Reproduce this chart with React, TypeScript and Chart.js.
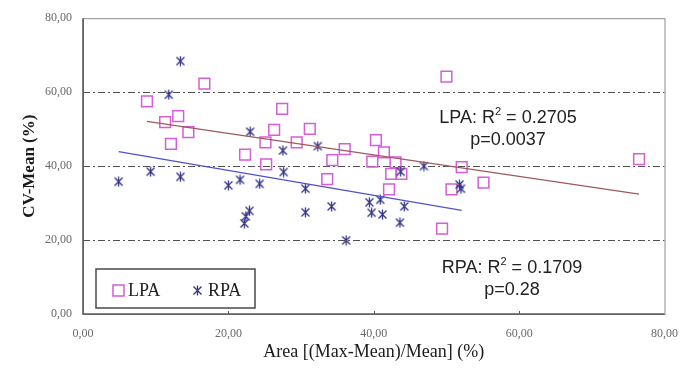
import React, { useEffect, useRef } from "react";
import { Chart, registerables } from "chart.js";

Chart.register(...registerables);

// ---- data ----
const lpaX = [8.8, 11.3, 13.1, 14.5, 12.1, 16.7, 22.3, 25.2, 26.3, 25.1, 27.4, 29.4, 31.2, 33.6, 34.3, 36.0, 40.3, 41.4, 39.8, 43.0, 42.4, 43.8, 42.1, 52.1, 50.7, 55.1, 49.4, 50.0, 76.5];
const lpaY = [57.5, 51.9, 53.5, 49.2, 46.0, 62.3, 43.1, 40.5, 49.8, 46.4, 55.5, 46.4, 50.1, 36.5, 41.6, 44.6, 47.0, 43.7, 41.2, 41.0, 37.9, 37.9, 33.7, 39.7, 33.7, 35.5, 23.1, 64.2, 41.9];

const rpaX = [4.9, 9.3, 13.4, 11.8, 13.4, 20.0, 21.6, 24.3, 23.0, 27.5, 27.6, 30.6, 32.3, 22.9, 22.4, 22.2, 30.6, 34.2, 36.2, 39.4, 40.9, 39.7, 41.2, 44.2, 43.6, 43.7, 46.9, 52.0, 51.8];
const rpaY = [35.8, 38.5, 68.4, 59.3, 37.1, 34.8, 36.3, 35.2, 49.3, 44.2, 38.4, 33.9, 45.4, 27.9, 26.4, 24.5, 27.5, 29.1, 19.9, 30.2, 30.9, 27.4, 26.9, 29.1, 24.7, 38.5, 40.0, 33.9, 35.0];

const lpaTrendX = [8.8, 76.5];
const lpaTrendY = [52.1, 32.4];
const rpaTrendX = [4.9, 52.1];
const rpaTrendY = [43.9, 28.0];

const seriesNames = ["LPA", "RPA"];
const lpaStats = { r2: "0.2705", p: "0.0037" };
const rpaStats = { r2: "0.1709", p: "0.28" };

const xTitle = "Area [(Max-Mean)/Mean] (%)";
const yTitle = "CV-Mean (%)";
const gridValues = [20, 40, 60];

const PINK = "#d75cd7";
const NAVY = "#34348a";
const LPA_TREND = "#9e5a5e";
const RPA_TREND = "#5252c8";

const fmt = (v: number) => v.toFixed(2).replace(".", ",");

function makeStar(): HTMLCanvasElement {
  const c = document.createElement("canvas");
  c.width = 11;
  c.height = 11;
  const g = c.getContext("2d")!;
  g.strokeStyle = NAVY;
  g.lineWidth = 1.3;
  g.beginPath();
  g.moveTo(1.5, 1.5);
  g.lineTo(9.5, 9.5);
  g.moveTo(9.5, 1.5);
  g.lineTo(1.5, 9.5);
  g.moveTo(5.5, 0.5);
  g.lineTo(5.5, 10.5);
  g.stroke();
  return c;
}

export default function App() {
  const ref = useRef<HTMLCanvasElement>(null);

  useEffect(() => {
    document.body.style.margin = "0";
    const star = makeStar();

    const drawSup = (
      ctx: CanvasRenderingContext2D,
      pre: string,
      sup: string,
      post: string,
      cx: number,
      baseline: number
    ) => {
      const big = "18px 'Liberation Sans'";
      const small = "11px 'Liberation Sans'";
      ctx.font = big;
      const w1 = ctx.measureText(pre).width;
      const w3 = ctx.measureText(post).width;
      ctx.font = small;
      const w2 = ctx.measureText(sup).width;
      const total = w1 + w2 + w3;
      let x = cx - total / 2;
      ctx.textAlign = "left";
      ctx.textBaseline = "alphabetic";
      ctx.font = big;
      ctx.fillText(pre, x, baseline);
      x += w1;
      ctx.font = small;
      ctx.fillText(sup, x, baseline - 8);
      x += w2;
      ctx.font = big;
      ctx.fillText(post, x, baseline);
    };

    const deco = {
      id: "deco",
      beforeDatasetsDraw(chart: any) {
        const { ctx, chartArea: ca, scales } = chart;
        ctx.save();
        ctx.strokeStyle = "#505050";
        ctx.lineWidth = 1;
        ctx.setLineDash([7, 3, 2, 3]);
        for (const v of gridValues) {
          const y = Math.round(scales.y.getPixelForValue(v)) + 0.5;
          ctx.beginPath();
          ctx.moveTo(ca.left, y);
          ctx.lineTo(ca.right, y);
          ctx.stroke();
        }
        ctx.restore();
      },
      afterDatasetsDraw(chart: any) {
        const { ctx, chartArea: ca, scales } = chart;
        ctx.save();
        // frame
        ctx.strokeStyle = "#8c8c8c";
        ctx.lineWidth = 1;
        ctx.strokeRect(ca.left + 0.5, ca.top + 0.5, ca.right - ca.left, ca.bottom - ca.top);
        ctx.strokeStyle = "#5a5a5a";
        ctx.lineWidth = 1.6;
        ctx.beginPath();
        ctx.moveTo(ca.left, ca.top);
        ctx.lineTo(ca.left, ca.bottom);
        ctx.lineTo(ca.right, ca.bottom);
        ctx.stroke();
        // small inward ticks on x axis
        ctx.lineWidth = 1;
        for (const v of [20, 40, 60]) {
          const x = Math.round(scales.x.getPixelForValue(v)) + 0.5;
          ctx.beginPath();
          ctx.moveTo(x, ca.bottom);
          ctx.lineTo(x, ca.bottom - 3);
          ctx.stroke();
        }

        // legend
        const lx = ca.left + 13;
        const ly = ca.bottom - 45;
        const lw = 159;
        const lh = 39;
        ctx.fillStyle = "#ffffff";
        ctx.fillRect(lx, ly, lw, lh);
        ctx.strokeStyle = "#4a4a4a";
        ctx.lineWidth = 1.5;
        ctx.strokeRect(lx, ly, lw, lh);
        const cy = ly + lh / 2 + 2;
        ctx.strokeStyle = PINK;
        ctx.lineWidth = 1.5;
        ctx.strokeRect(lx + 17, cy - 5.5, 11, 11);
        ctx.drawImage(star, lx + 96, cy - 5.5);
        ctx.fillStyle = "#222";
        ctx.font = "18px 'Liberation Serif'";
        ctx.textAlign = "left";
        ctx.textBaseline = "middle";
        ctx.fillText(seriesNames[0], lx + 32, cy + 1);
        ctx.fillText(seriesNames[1], lx + 112, cy + 1);

        // annotations
        ctx.fillStyle = "#222";
        drawSup(ctx, "LPA: R", "2", " = " + lpaStats.r2, 508, 123);
        ctx.font = "18px 'Liberation Sans'";
        ctx.textAlign = "center";
        ctx.fillText("p=" + lpaStats.p, 508, 145);
        drawSup(ctx, "RPA: R", "2", " = " + rpaStats.r2, 512, 273);
        ctx.font = "18px 'Liberation Sans'";
        ctx.textAlign = "center";
        ctx.fillText("p=" + rpaStats.p, 512, 295);

        // axis titles
        ctx.fillStyle = "#1a1a1a";
        ctx.font = "18px 'Liberation Serif'";
        ctx.textAlign = "center";
        ctx.textBaseline = "alphabetic";
        ctx.fillText(xTitle, (ca.left + ca.right) / 2, 357);
        ctx.save();
        ctx.translate(34, (ca.top + ca.bottom) / 2);
        ctx.rotate(-Math.PI / 2);
        ctx.font = "bold 17px 'Liberation Serif'";
        ctx.fillText(yTitle, 0, 0);
        ctx.restore();
        ctx.restore();
      },
    };

    const toPts = (xs: number[], ys: number[]) => xs.map((x, i) => ({ x, y: ys[i] }));

    const chart = new Chart(ref.current!, {
      type: "scatter",
      data: {
        datasets: [
          {
            label: "LPA trend",
            data: toPts(lpaTrendX, lpaTrendY),
            showLine: true,
            borderColor: LPA_TREND,
            borderWidth: 1.3,
            pointRadius: 0,
            fill: false,
          },
          {
            label: "RPA trend",
            data: toPts(rpaTrendX, rpaTrendY),
            showLine: true,
            borderColor: RPA_TREND,
            borderWidth: 1.3,
            pointRadius: 0,
            fill: false,
          },
          {
            label: seriesNames[1],
            data: toPts(rpaX, rpaY),
            pointStyle: star as any,
            pointRadius: 5.5,
          },
          {
            label: seriesNames[0],
            data: toPts(lpaX, lpaY),
            pointStyle: "rect",
            pointRadius: 7.6,
            borderColor: PINK,
            backgroundColor: "rgba(0,0,0,0)",
            borderWidth: 1.5,
          },
        ],
      },
      options: {
        responsive: false,
        animation: false,
        events: [],
        layout: { padding: { top: 14, right: 25, left: 0, bottom: 0 } },
        plugins: {
          legend: { display: false },
          tooltip: { enabled: false },
          title: { display: false },
        },
        scales: {
          x: {
            type: "linear",
            min: 0,
            max: 80,
            ticks: {
              stepSize: 20,
              callback: (v: any) => fmt(Number(v)),
              font: { family: "'Liberation Serif'", size: 12 },
              color: "#6a6a6a",
              padding: 13,
              maxRotation: 0,
            },
            grid: { display: false, drawTicks: false },
            border: { display: false },
            afterFit: (s: any) => {
              s.height = 55;
            },
          },
          y: {
            type: "linear",
            min: 0,
            max: 80,
            ticks: {
              stepSize: 20,
              callback: (v: any) => fmt(Number(v)),
              font: { family: "'Liberation Serif'", size: 12 },
              color: "#6a6a6a",
              padding: 11,
            },
            grid: { display: false, drawTicks: false },
            border: { display: false },
            afterFit: (s: any) => {
              s.width = 83;
            },
          },
        },
      },
      plugins: [deco],
    });
    return () => chart.destroy();
  }, []);

  return (
    <div style={{ width: 691, height: 369 }}>
      <canvas ref={ref} width={691} height={369} style={{ display: "block" }} />
    </div>
  );
}
